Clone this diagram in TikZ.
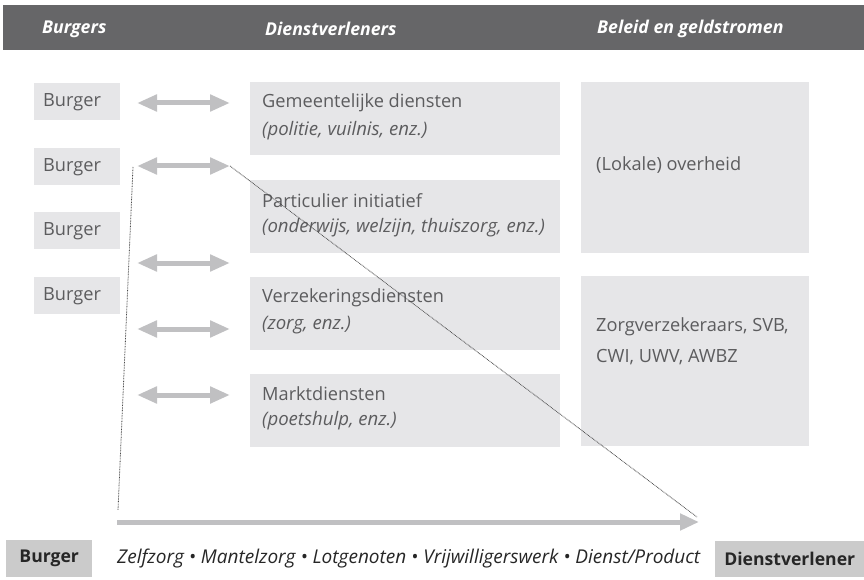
\documentclass[tikz,border=0pt]{standalone}
\usepackage{fontspec}
\setmainfont{Open Sans}
\usetikzlibrary{arrows.meta,calc}
\definecolor{hdr}{HTML}{666668}
\definecolor{boxfill}{HTML}{E6E6E8}
\definecolor{arrowgray}{HTML}{C0C0C2}
\definecolor{darkbox}{HTML}{CBCBCB}
\definecolor{txt}{HTML}{5C5C5E}
\definecolor{dots}{HTML}{4A4A4A}
\begin{document}
\begin{tikzpicture}[x=1pt,y=-1pt,
  box/.style={fill=boxfill,draw=none,anchor=north west,inner sep=0pt,minimum width=#1},
  lbl/.style={anchor=west,inner sep=0pt,text=txt,font=\fontsize{18.2}{22}\selectfont},
  ilbl/.style={lbl,font=\fontsize{18.6}{22}\selectfont\itshape},
  hlbl/.style={anchor=west,inner sep=0pt,text=white,font=\fontsize{17.7}{22}\selectfont\bfseries\itshape},
  blbl/.style={anchor=center,inner sep=0pt,text=black!85,font=\fontsize{17.6}{22}\selectfont\bfseries},
  dbl/.style={draw=arrowgray,line width=5pt,{Triangle[length=20pt,width=16pt]}-{Triangle[length=20pt,width=16pt]}},
  single/.style={draw=arrowgray,line width=5pt,-{Triangle[length=19pt,width=16pt]}},
  dotline/.style={draw=dots,line width=0.8pt,dash pattern=on 0.8pt off 0.8pt},
]
\useasboundingbox (0,0) rectangle (864,580);
% header
\node[fill=hdr,anchor=north west,inner sep=0pt,minimum width=861pt,minimum height=45pt] (hbar) at (3,5) {};
\node[hlbl] (h1) at (42,29) {Burgers};
\node[hlbl] (h2) at (265,29) {Dienstverleners};
\node[hlbl] (h3) at (597,29) {Beleid en geldstromen};
% burger boxes
\foreach \i/\y in {1/83,2/148,3/212,4/277}{
  \node[box=86pt,minimum height=37pt] (b\i) at (34,\y) {};
  \node[lbl] (bt\i) at ($(b\i.west)+(9,0)$) {Burger};
}
% dienstverleners boxes
\node[box=310pt,minimum height=73pt] (d1) at (250,82) {};
\node[box=310pt,minimum height=73pt] (d2) at (250,180) {};
\node[box=310pt,minimum height=73pt] (d3) at (250,277) {};
\node[box=310pt,minimum height=73pt] (d4) at (250,374) {};
\node[lbl] (d1a) at ($(d1.north west)+(12,21)$) {Gemeentelijke diensten};
\node[ilbl] (d1b) at ($(d1.north west)+(12,49)$) {(politie, vuilnis, enz.)};
\node[lbl] (d2a) at ($(d2.north west)+(12,21)$) {Particulier initiatief};
\node[ilbl] (d2b) at ($(d2.north west)+(12,48)$) {(onderwijs, welzijn, thuiszorg, enz.)};
\node[lbl] (d3a) at ($(d3.north west)+(12,21)$) {Verzekeringsdiensten};
\node[ilbl] (d3b) at ($(d3.north west)+(12,48)$) {(zorg, enz.)};
\node[lbl] (d4a) at ($(d4.north west)+(12,20)$) {Marktdiensten};
\node[ilbl] (d4b) at ($(d4.north west)+(12,47)$) {(poetshulp, enz.)};
% beleid boxes
\node[box=228pt,minimum height=171pt] (p1) at (581,82) {};
\node[box=228pt,minimum height=170pt] (p2) at (581,276) {};
\node[lbl] (p1t) at (596,165) {(Lokale) overheid};
\node[lbl] (p2a) at (596,327) {Zorgverzekeraars, SVB,};
\node[lbl] (p2b) at (596,357) {CWI, UWV, AWBZ};
% double arrows
\foreach \i/\y in {1/103,2/166,3/263,4/329,5/395}{
  \coordinate (al\i) at (137,\y);
  \coordinate (ar\i) at (230,\y);
  \draw[dbl] (al\i) -- (ar\i);
}
% dotted lines
\coordinate (dv) at (118,510);
\coordinate (dd) at (697,517);
\coordinate (dtop) at (133,167);
\draw[dotline] (dtop) -- (dv);
\draw[dotline] (ar2) -- (dd);
% bottom arrow
\coordinate (bs) at (117,522);
\coordinate (be) at (699,522);
\draw[single] (bs) -- (be);
% bottom boxes
\node[fill=darkbox,anchor=north west,inner sep=0pt,minimum width=86pt,minimum height=37pt] (bb) at (6,540) {};
\node[blbl] (bbt) at (bb.center) {Burger};
\node[fill=darkbox,anchor=north west,inner sep=0pt,minimum width=149pt,minimum height=36pt] (db) at (715,541) {};
\node[blbl] (dbt) at (db.center) {Dienstverlener};
\node[anchor=west,inner sep=0pt,text=black!85,font=\fontsize{19}{22}\selectfont\itshape] (scale) at (117,559) {Zelfzorg • Mantelzorg • Lotgenoten • Vrijwilligerswerk • Dienst/Product};
\end{tikzpicture}
\end{document}
